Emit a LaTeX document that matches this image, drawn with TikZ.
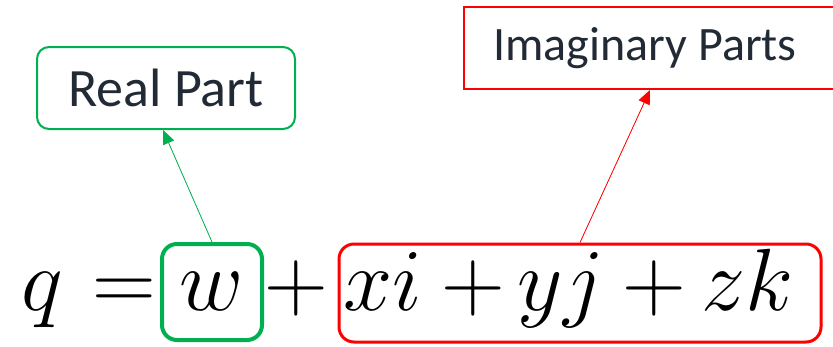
\documentclass[tikz,border=0pt]{standalone}
\usepackage{graphicx}
\usepackage{fontspec}
\setmainfont{Carlito}
\usetikzlibrary{arrows.meta}
\definecolor{pgreen}{RGB}{0,176,80}
\definecolor{pred}{RGB}{255,0,0}
\definecolor{ptext}{RGB}{34,42,53}
\newcommand{\eqsym}[1]{\scalebox{3.55}{\Huge$#1$}}
\tikzset{
  label box/.style={draw, line width=2pt, text=ptext, inner sep=0pt},
  mathsym/.style={anchor=base, inner sep=0pt},
  ptr/.style={line width=1pt, -{Triangle[length=14pt,width=12pt]}},
}
\begin{document}
\begin{tikzpicture}[x=1pt,y=-1pt]
\useasboundingbox (0,0) rectangle (833,346);
% label boxes
\node[label box, draw=pgreen, rounded corners=12pt, minimum width=258pt, minimum height=82pt,
      font=\fontsize{54}{54}\selectfont] (real) at (166,88) {Real Part};
\node[label box, draw=pred, minimum width=386pt, minimum height=82pt,
      font=\fontsize{48}{48}\selectfont] (imag) at (657,48) {\hspace*{-24pt}Imaginary Parts};
% highlight boxes
\node[draw=pgreen, line width=4pt, rounded corners=15pt, minimum width=100pt, minimum height=96pt, inner sep=0pt] (wbox) at (212,292) {};
\node[draw=pred, line width=3pt, rounded corners=15pt, minimum width=482pt, minimum height=98pt, inner sep=0pt] (ibox) at (580,293) {};
% equation symbols
\node[mathsym] (q) at (42,310) {\eqsym{q}};
\node[mathsym] (eq) at (124,310) {\eqsym{=}};
\node[mathsym] (w) at (212,310) {\eqsym{w}};
\node[mathsym] (p1) at (296,310) {\eqsym{+}};
\node[mathsym] (xi) at (383,310) {\eqsym{xi}};
\node[mathsym] (p2) at (473,310) {\eqsym{+}};
\node[mathsym] (yj) at (561,310) {\eqsym{yj}};
\node[mathsym] (p3) at (654,310) {\eqsym{+}};
\node[mathsym] (zk) at (748,310) {\eqsym{zk}};
% pointers
\draw[ptr, draw=pgreen, fill=pgreen, line width=0.8pt] (wbox.north) -- ([xshift=-3pt]real.south);
\draw[ptr, draw=pred, fill=pred, line width=0.8pt] (ibox.north) -- ([xshift=-7pt]imag.south);
\end{tikzpicture}
\end{document}
